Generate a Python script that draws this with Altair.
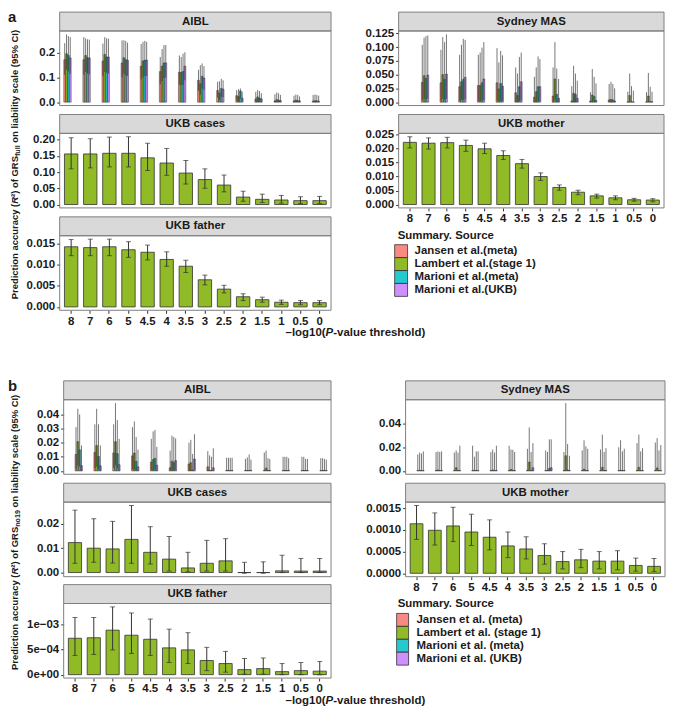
import altair as alt
import pandas as pd

FONT = "Liberation Sans"
INK = "#1a1a1a"
GRAYLINE = "#333333"
FRAME = "#7f7f7f"

THR = ["8", "7", "6", "5", "4.5", "4", "3.5", "3", "2.5", "2", "1.5", "1", "0.5", "0"]
THR_SYD_A = ["7", "6", "5", "4.5", "4", "3.5", "3", "2.5", "2", "1.5", "1", "0.5", "0"]
SRC_A = ["Jansen et al.(meta)", "Lambert et al.(stage 1)", "Marioni et al.(meta)", "Marioni et al.(UKB)"]
SRC_B = ["Jansen et al. (meta)", "Lambert et al. (stage 1)", "Marioni et al. (meta)", "Marioni et al. (UKB)"]
COLORS = ["#F8766D", "#7CAE00", "#00BFC4", "#C77CFF"]

# ---------------- Part a ----------------
a_aibl_val = [
    [0.171, 0.171, 0.166, 0.158, 0.145, 0.123, 0.121, 0.088, 0.047, 0.026, 0.013, 0.005, 0.005, 0.004],
    [0.195, 0.188, 0.192, 0.179, 0.166, 0.145, 0.119, 0.074, 0.036, 0.022, 0.021, 0.010, 0.008, 0.006],
    [0.188, 0.179, 0.182, 0.171, 0.169, 0.158, 0.123, 0.104, 0.055, 0.045, 0.016, 0.008, 0.006, 0.005],
    [0.178, 0.178, 0.182, 0.169, 0.169, 0.158, 0.145, 0.097, 0.052, 0.016, 0.013, 0.006, 0.005, 0.004],
]
a_aibl_lo = [
    [0.110, 0.110, 0.105, 0.100, 0.092, 0.072, 0.070, 0.045, 0.018, 0.006, 0.000, 0.000, 0.000, 0.000],
    [0.130, 0.122, 0.122, 0.115, 0.100, 0.085, 0.068, 0.030, 0.008, 0.002, 0.001, 0.000, 0.000, 0.000],
    [0.123, 0.115, 0.118, 0.108, 0.105, 0.098, 0.070, 0.055, 0.022, 0.015, 0.002, 0.000, 0.000, 0.000],
    [0.114, 0.112, 0.115, 0.105, 0.105, 0.098, 0.088, 0.050, 0.020, 0.002, 0.000, 0.000, 0.000, 0.000],
]
a_aibl_hi = [
    [0.238, 0.262, 0.236, 0.249, 0.234, 0.182, 0.188, 0.130, 0.082, 0.048, 0.042, 0.032, 0.026, 0.029],
    [0.273, 0.257, 0.262, 0.249, 0.243, 0.214, 0.182, 0.149, 0.084, 0.052, 0.049, 0.039, 0.031, 0.031],
    [0.266, 0.253, 0.257, 0.247, 0.247, 0.230, 0.195, 0.156, 0.094, 0.055, 0.045, 0.036, 0.029, 0.029],
    [0.262, 0.252, 0.256, 0.240, 0.243, 0.230, 0.201, 0.145, 0.088, 0.042, 0.036, 0.029, 0.023, 0.026],
]
a_syd_val = [
    [0.036, 0.035, 0.028, 0.030, 0.035, 0.017, 0.009, 0.011, 0.002, 0.002, 0.004, 0.0005, 0.0005],
    [0.048, 0.050, 0.037, 0.030, 0.024, 0.012, 0.019, 0.042, 0.016, 0.013, 0.005, 0.012, 0.011],
    [0.043, 0.041, 0.041, 0.035, 0.034, 0.028, 0.028, 0.014, 0.014, 0.010, 0.004, 0.0005, 0.001],
    [0.049, 0.051, 0.045, 0.042, 0.029, 0.037, 0.028, 0.007, 0.007, 0.003, 0.002, 0.0005, 0.0005],
]
a_syd_lo = [
    [0.004, 0.003, 0.002, 0.002, 0.003, 0.000, 0.000, 0.000, 0.000, 0.000, 0.000, 0.000, 0.000],
    [0.006, 0.006, 0.004, 0.002, 0.001, 0.000, 0.000, 0.004, 0.000, 0.000, 0.000, 0.000, 0.000],
    [0.005, 0.004, 0.004, 0.003, 0.002, 0.002, 0.002, 0.000, 0.000, 0.000, 0.000, 0.000, 0.000],
    [0.006, 0.006, 0.005, 0.004, 0.002, 0.003, 0.002, 0.000, 0.000, 0.000, 0.000, 0.000, 0.000],
]
a_syd_hi = [
    [0.104, 0.095, 0.086, 0.086, 0.098, 0.063, 0.046, 0.063, 0.029, 0.018, 0.033, 0.019, 0.018],
    [0.117, 0.118, 0.104, 0.090, 0.072, 0.052, 0.063, 0.109, 0.066, 0.060, 0.037, 0.052, 0.053],
    [0.120, 0.109, 0.115, 0.099, 0.093, 0.082, 0.083, 0.061, 0.052, 0.046, 0.033, 0.029, 0.028],
    [0.121, 0.123, 0.113, 0.109, 0.085, 0.090, 0.078, 0.042, 0.039, 0.034, 0.025, 0.021, 0.019],
]
a_cases_val = [0.156, 0.156, 0.158, 0.158, 0.144, 0.128, 0.097, 0.077, 0.060, 0.023, 0.016, 0.014, 0.012, 0.012]
a_cases_lo = [0.110, 0.113, 0.116, 0.116, 0.105, 0.090, 0.063, 0.050, 0.039, 0.010, 0.006, 0.004, 0.003, 0.003]
a_cases_hi = [0.206, 0.203, 0.208, 0.209, 0.189, 0.173, 0.136, 0.110, 0.091, 0.041, 0.032, 0.028, 0.024, 0.025]
a_mother_val = [0.0222, 0.0219, 0.0221, 0.0211, 0.0199, 0.0175, 0.0146, 0.0100, 0.0061, 0.0044, 0.0031, 0.0024, 0.0017, 0.0016]
a_mother_lo = [0.0202, 0.0198, 0.0202, 0.0190, 0.0182, 0.0161, 0.0130, 0.0086, 0.0051, 0.0035, 0.0023, 0.0017, 0.0012, 0.0010]
a_mother_hi = [0.0242, 0.0238, 0.0240, 0.0230, 0.0219, 0.0192, 0.0161, 0.0113, 0.0070, 0.0051, 0.0037, 0.0031, 0.0022, 0.0021]
a_father_val = [0.0142, 0.0140, 0.0142, 0.0135, 0.0129, 0.0112, 0.0096, 0.0064, 0.0042, 0.0024, 0.0017, 0.0011, 0.0010, 0.0010]
a_father_lo = [0.0121, 0.0121, 0.0121, 0.0117, 0.0111, 0.0096, 0.0081, 0.0052, 0.0033, 0.0015, 0.0011, 0.0006, 0.0005, 0.0005]
a_father_hi = [0.0159, 0.0160, 0.0160, 0.0154, 0.0146, 0.0130, 0.0110, 0.0075, 0.0051, 0.0031, 0.0023, 0.0016, 0.0015, 0.0015]

# ---------------- Part b ----------------
b_aibl_val = [
    [0.0116, 0.0131, 0.0127, 0.0107, 0.0062, 0.0022, 0.0049, 0.0029, 0.0003, 0.0003, 0.0003, 0.0003, 0.0003, 0.0003],
    [0.0207, 0.0180, 0.0207, 0.0127, 0.0080, 0.0069, 0.0058, 0.0003, 0.0003, 0.0003, 0.0020, 0.0003, 0.0003, 0.0003],
    [0.0149, 0.0102, 0.0122, 0.0067, 0.0089, 0.0058, 0.0005, 0.0003, 0.0003, 0.0003, 0.0003, 0.0003, 0.0003, 0.0003],
    [0.0037, 0.0036, 0.0044, 0.0029, 0.0040, 0.0073, 0.0084, 0.0022, 0.0003, 0.0003, 0.0003, 0.0003, 0.0003, 0.0003],
]
b_aibl_lo = [
    [0.0015, 0.0020, 0.0020, 0.0010, 0.0005, 0.0, 0.0, 0.0, 0.0, 0.0, 0.0, 0.0, 0.0, 0.0],
    [0.0040, 0.0030, 0.0040, 0.0010, 0.0005, 0.0005, 0.0, 0.0, 0.0, 0.0, 0.0, 0.0, 0.0, 0.0],
    [0.0030, 0.0010, 0.0020, 0.0005, 0.0010, 0.0005, 0.0, 0.0, 0.0, 0.0, 0.0, 0.0, 0.0, 0.0],
    [0.0, 0.0, 0.0, 0.0, 0.0, 0.0005, 0.0005, 0.0, 0.0, 0.0, 0.0, 0.0, 0.0, 0.0],
]
b_aibl_hi = [
    [0.031, 0.033, 0.033, 0.031, 0.0227, 0.0144, 0.020, 0.014, 0.0093, 0.0085, 0.013, 0.010, 0.010, 0.009],
    [0.044, 0.044, 0.048, 0.035, 0.028, 0.025, 0.022, 0.011, 0.0093, 0.0096, 0.0144, 0.010, 0.010, 0.009],
    [0.040, 0.033, 0.036, 0.024, 0.029, 0.024, 0.012, 0.010, 0.0093, 0.0116, 0.009, 0.010, 0.0085, 0.0085],
    [0.018, 0.018, 0.0227, 0.015, 0.017, 0.023, 0.026, 0.016, 0.0093, 0.008, 0.0085, 0.009, 0.0085, 0.008],
]
b_syd_val = [
    [0.0003, 0.0003, 0.0003, 0.0003, 0.0003, 0.0003, 0.0003, 0.0003, 0.0003, 0.0003, 0.0003, 0.0003, 0.0003, 0.0003],
    [0.0005, 0.0008, 0.0027, 0.0005, 0.0008, 0.0012, 0.0075, 0.0005, 0.0128, 0.0015, 0.0030, 0.0005, 0.0030, 0.0025],
    [0.0003, 0.0003, 0.0003, 0.0003, 0.0003, 0.0005, 0.0003, 0.0020, 0.0008, 0.0003, 0.0003, 0.0003, 0.0003, 0.0003],
    [0.0003, 0.0003, 0.0003, 0.0003, 0.0003, 0.0003, 0.0027, 0.0027, 0.0003, 0.0003, 0.0003, 0.0003, 0.0003, 0.0003],
]
b_syd_lo = [
    [0.0] * 14,
    [0.0] * 14,
    [0.0] * 14,
    [0.0] * 14,
]
b_syd_hi = [
    [0.0139, 0.0160, 0.0155, 0.0213, 0.0160, 0.0213, 0.0187, 0.0173, 0.0160, 0.0173, 0.0181, 0.0200, 0.0235, 0.0240],
    [0.0155, 0.0165, 0.0173, 0.0120, 0.0181, 0.0181, 0.0368, 0.0160, 0.0573, 0.0259, 0.0307, 0.0260, 0.0307, 0.0277],
    [0.0147, 0.0160, 0.0155, 0.0165, 0.0155, 0.0179, 0.0160, 0.0267, 0.0227, 0.0208, 0.0160, 0.0165, 0.0165, 0.0173],
    [0.0165, 0.0165, 0.0213, 0.0165, 0.0213, 0.0160, 0.0235, 0.0267, 0.0128, 0.0187, 0.0192, 0.0187, 0.0192, 0.0219],
]
b_cases_val = [0.0123, 0.0100, 0.0097, 0.0136, 0.0083, 0.0055, 0.0019, 0.0038, 0.0048, 0.0000, 0.0000, 0.0007, 0.0006, 0.0006]
b_cases_lo = [0.0038, 0.0042, 0.0039, 0.0038, 0.0035, 0.0006, 0.0003, 0.0006, 0.0006, -0.0003, -0.0003, 0.0000, 0.0000, 0.0000]
b_cases_hi = [0.0256, 0.0221, 0.0210, 0.0275, 0.0188, 0.0148, 0.0083, 0.0132, 0.0139, 0.0042, 0.0044, 0.0071, 0.0058, 0.0058]
b_mother_val = [0.00114, 0.00099, 0.00109, 0.00095, 0.00083, 0.00063, 0.00056, 0.00041, 0.00027, 0.00031, 0.00028, 0.00028, 0.00018, 0.00016]
b_mother_lo = [0.00078, 0.00065, 0.00073, 0.00064, 0.00054, 0.00036, 0.00033, 0.00021, 0.00010, 0.00013, 0.00010, 0.00008, 0.00005, 0.00004]
b_mother_hi = [0.00156, 0.00139, 0.00152, 0.00136, 0.00123, 0.00095, 0.00084, 0.00068, 0.00050, 0.00055, 0.00050, 0.00052, 0.00035, 0.00034]
b_father_val = [0.00072, 0.00073, 0.00088, 0.00078, 0.00070, 0.00053, 0.00049, 0.00028, 0.00022, 0.00010, 0.00012, 0.00006, 0.00008, 0.00007]
b_father_lo = [0.00038, 0.00040, 0.00049, 0.00042, 0.00038, 0.00024, 0.00022, 0.00008, 0.00005, 0.00001, 0.00001, 0.00000, 0.00000, 0.00000]
b_father_hi = [0.00113, 0.00113, 0.00134, 0.00122, 0.00110, 0.00090, 0.00083, 0.00054, 0.00046, 0.00032, 0.00033, 0.00022, 0.00024, 0.00026]

STRIP_H = 19
H = 75
GAP = 6
COL_H = 3 * (STRIP_H + H) + 2 * GAP


def grouped_df(thr, sources, vals, los, his):
    rows = []
    for s, v, l, h in zip(sources, vals, los, his):
        for t, a, b, c in zip(thr, v, l, h):
            rows.append({"thr": t, "src": s, "val": a, "lo": b, "hi": c})
    return pd.DataFrame(rows)


def single_df(thr, source, vals, los, his):
    return pd.DataFrame({"thr": thr, "src": [source] * len(thr), "val": vals, "lo": los, "hi": his})


def txt(text, x, y, size=11.5, align="center", baseline="middle", angle=0, weight="bold", italic=False):
    kw = dict(align=align, baseline=baseline, font=FONT, fontSize=size, fontWeight=weight, color=INK)
    if angle:
        kw["angle"] = angle
    if italic:
        kw["fontStyle"] = "italic"
    return alt.Chart(pd.DataFrame({"t": [text]})).mark_text(**kw).encode(
        x=alt.value(x), y=alt.value(y), text="t:N")


def panel(df, title, W, sources, ticks, fmt=None, label_expr=None, grouped=False,
          bottom=False, caps=False):
    lo_d = min(0.0, float(df["lo"].min()))
    hi_d = float(df["hi"].max())
    R = hi_d - lo_d
    yscale = alt.Scale(domain=[lo_d - 0.05 * R, hi_d + 0.05 * R], nice=False, zero=False)
    akw = dict(values=ticks, tickSize=3, tickColor=GRAYLINE, labelPadding=2)
    if fmt:
        akw["format"] = fmt
    if label_expr:
        akw["labelExpr"] = label_expr
    yaxis = alt.Axis(**akw)
    if grouped:
        xscale = alt.Scale(domain=THR, paddingInner=0.23, paddingOuter=0.215)
    else:
        xscale = alt.Scale(domain=THR, paddingInner=0.3, paddingOuter=0.25)
    if bottom:
        x = alt.X("thr:N", scale=xscale, title=None,
                  axis=alt.Axis(labelAngle=0, tickSize=3, tickColor=GRAYLINE, labelPadding=2))
    else:
        x = alt.X("thr:N", scale=xscale, axis=None)
    color = alt.Color("src:N", scale=alt.Scale(domain=sources, range=COLORS), legend=None)
    pos = {"x": x}
    if grouped:
        pos["xOffset"] = alt.XOffset("src:N", scale=alt.Scale(domain=sources, paddingInner=0, paddingOuter=0))

    def Y(field):
        return alt.Y(field, scale=yscale, axis=yaxis, title=None)

    base = alt.Chart(df)
    one = pd.DataFrame({"t": [title]})
    strip = alt.Chart(one).mark_rect(fill="#d9d9d9", stroke=FRAME, strokeWidth=1).encode(
        x=alt.value(0), x2=alt.value(W), y=alt.value(-STRIP_H), y2=alt.value(0))
    strip_t = alt.Chart(one).mark_text(font=FONT, fontSize=11.5, fontWeight="bold", color=INK).encode(
        x=alt.value(W / 2), y=alt.value(-STRIP_H / 2), text="t:N")
    if grouped:
        bars = base.mark_bar(stroke=GRAYLINE, strokeWidth=0.5, fillOpacity=0.9).encode(
            y=Y("val:Q"), y2=alt.datum(0), color=color, **pos)
        err = base.mark_rule(color="#2b2b2b", strokeWidth=1, opacity=0.65).encode(
            y=Y("lo:Q"), y2="hi:Q", **pos)
    else:
        bars = base.mark_bar(stroke=GRAYLINE, strokeWidth=0.8, fillOpacity=0.85).encode(
            y=Y("val:Q"), y2=alt.datum(0), color=color, **pos)
        err = base.mark_rule(color=GRAYLINE, strokeWidth=1).encode(y=Y("lo:Q"), y2="hi:Q", **pos)
    layers = [strip, strip_t, bars, err]
    if caps:
        layers.append(base.mark_tick(color=GRAYLINE, thickness=1, size=5).encode(y=Y("hi:Q"), **pos))
        layers.append(base.mark_tick(color=GRAYLINE, thickness=1, size=5).encode(y=Y("lo:Q"), **pos))
    frame = alt.Chart(one).mark_rect(fillOpacity=0, stroke=FRAME, strokeWidth=1).encode(
        x=alt.value(0), x2=alt.value(W), y=alt.value(0), y2=alt.value(H))
    layers.append(frame)
    return alt.layer(*layers).properties(width=W, height=H)


def legend_chart(sources, W, kx0, kx1, lx, tx):
    ldf = pd.DataFrame({"src": sources})
    ysc = alt.Scale(domain=sources, paddingInner=0, paddingOuter=0)
    keys = alt.Chart(ldf).mark_rect(stroke=GRAYLINE, strokeWidth=0.8, fillOpacity=0.85).encode(
        y=alt.Y("src:N", scale=ysc, axis=None), x=alt.value(kx0), x2=alt.value(kx1),
        color=alt.Color("src:N", scale=alt.Scale(domain=sources, range=COLORS), legend=None))
    labels = alt.Chart(ldf).mark_text(align="left", font=FONT, fontSize=11.5, fontWeight="bold", color=INK).encode(
        y=alt.Y("src:N", scale=ysc, axis=None), x=alt.value(lx), text="src:N")
    ttl = txt("Summary. Source", tx, -9, align="left")
    return alt.layer(keys, labels, ttl).properties(width=W, height=52)


def ytitle_chart(letter, sub, y0):
    # narrow chart aligned with the first panel's plot top: panel letter and rotated y title.
    # Pieces are chained along the (upward-reading) axis; y0 is the bottom end of the title.
    x0 = 7
    fs = 9.5
    w_c = 41.2   # "²) of GRS"
    w_r = 6.9    # italic "R"
    w_a = 96.1   # "Prediction accuracy ("
    p = y0 - (w_a + w_r + w_c)
    pa = txt("Prediction accuracy (", x0, p + w_c + w_r, size=fs, align="right", angle=270)
    pr = txt("R", x0, p + w_c, size=fs, align="right", angle=270, italic=True)
    pc = txt("²) of GRS", x0, p, size=fs, align="right", angle=270)
    subt = txt(sub, x0 + 3, p, size=7.2, align="left", angle=270)
    sub_w = {"full": 10.8, "no19": 16.8}[sub]
    part3 = txt("on liability scale (95% CI)", x0, p - sub_w - 2.6, size=fs, align="left", angle=270)
    lab = txt(letter, 0, -STRIP_H - 2, size=15, align="left", baseline="top")
    return alt.layer(lab, pa, pr, pc, subt, part3).properties(width=12, height=COL_H - STRIP_H)


def xtitle_chart():
    X = 319.5
    a = txt("\u2013log10(", X, 6, align="right")
    p = txt("P", X, 6, align="left", italic=True)
    c = txt("-value threshold)", X + 7.7, 6, align="left")
    return alt.layer(a, p, c).properties(width=600, height=12)


# ---------- assemble part a ----------
WLA, WRA = 273, 267
df_a_aibl = grouped_df(THR, SRC_A, a_aibl_val, a_aibl_lo, a_aibl_hi)
df_a_syd = grouped_df(THR_SYD_A, SRC_A, a_syd_val, a_syd_lo, a_syd_hi)
df_a_cases = single_df(THR, SRC_A[1], a_cases_val, a_cases_lo, a_cases_hi)
df_a_mother = single_df(THR, SRC_A[1], a_mother_val, a_mother_lo, a_mother_hi)
df_a_father = single_df(THR, SRC_A[1], a_father_val, a_father_lo, a_father_hi)

pa1 = panel(df_a_aibl, "AIBL", WLA, SRC_A, [0, 0.1, 0.2], fmt=".1f", grouped=True)
pa2 = panel(df_a_cases, "UKB cases", WLA, SRC_A, [0, 0.05, 0.1, 0.15, 0.2], fmt=".2f", caps=True)
pa3 = panel(df_a_father, "UKB father", WLA, SRC_A, [0, 0.005, 0.01, 0.015], fmt=".3f", caps=True, bottom=True)
pa4 = panel(df_a_syd, "Sydney MAS", WRA, SRC_A, [0, 0.025, 0.05, 0.075, 0.1, 0.125], fmt=".3f", grouped=True)
pa5 = panel(df_a_mother, "UKB mother", WRA, SRC_A, [0, 0.005, 0.01, 0.015, 0.02, 0.025], fmt=".3f",
            caps=True, bottom=True)
lega = legend_chart(SRC_A, WRA, -4, 9, 16, -1)

yt_a = ytitle_chart("a", "full", 270)
left_a = alt.hconcat(yt_a, alt.vconcat(pa1, pa2, pa3, spacing=GAP - 1), spacing=4)
right_a = alt.vconcat(pa4, pa5, lega, spacing=GAP - 1)
part_a = alt.vconcat(alt.hconcat(left_a, right_a, spacing=33), xtitle_chart(), spacing=0)

# ---------- assemble part b ----------
WLB, WRB = 269, 261
df_b_aibl = grouped_df(THR, SRC_B, b_aibl_val, b_aibl_lo, b_aibl_hi)
df_b_syd = grouped_df(THR, SRC_B, b_syd_val, b_syd_lo, b_syd_hi)
df_b_cases = single_df(THR, SRC_B[1], b_cases_val, b_cases_lo, b_cases_hi)
df_b_mother = single_df(THR, SRC_B[1], b_mother_val, b_mother_lo, b_mother_hi)
df_b_father = single_df(THR, SRC_B[1], b_father_val, b_father_lo, b_father_hi)

FATHER_EXPR = "datum.value < 0.00025 ? '0e+00' : (datum.value < 0.00075 ? '5e\u221204' : '1e\u221203')"

pb1 = panel(df_b_aibl, "AIBL", WLB, SRC_B, [0, 0.01, 0.02, 0.03, 0.04], fmt=".2f", grouped=True)
pb2 = panel(df_b_cases, "UKB cases", WLB, SRC_B, [0, 0.01, 0.02], fmt=".2f", caps=True)
pb3 = panel(df_b_father, "UKB father", WLB, SRC_B, [0, 0.0005, 0.001], label_expr=FATHER_EXPR,
            caps=True, bottom=True)
pb4 = panel(df_b_syd, "Sydney MAS", WRB, SRC_B, [0, 0.02, 0.04], fmt=".2f", grouped=True)
pb5 = panel(df_b_mother, "UKB mother", WRB, SRC_B, [0, 0.0005, 0.001, 0.0015], fmt=".4f",
            caps=True, bottom=True)
legb = legend_chart(SRC_B, WRB, -9, 3, 11, -8)

yt_b = ytitle_chart("b", "no19", 272)
left_b = alt.hconcat(yt_b, alt.vconcat(pb1, pb2, pb3, spacing=GAP - 1), spacing=4)
right_b = alt.vconcat(pb4, pb5, legb, spacing=GAP - 1)
part_b = alt.vconcat(alt.hconcat(left_b, right_b, spacing=33), xtitle_chart(), spacing=0)

chart = alt.vconcat(part_a, part_b, spacing=40).properties(padding=0).configure_view(
    strokeWidth=0
).configure_axis(
    labelFont=FONT, labelFontWeight="bold", labelFontSize=11.5, labelColor=INK,
    domain=False, grid=False
)

chart.save("out.html", embed_options={"renderer": "svg", "actions": False})
